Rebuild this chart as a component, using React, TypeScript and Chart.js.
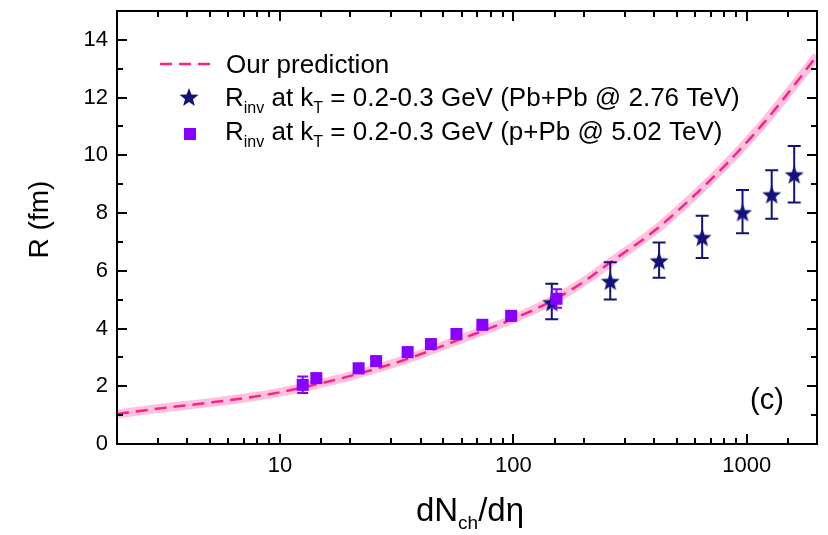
import React, { useEffect, useRef } from "react";
import { Chart, registerables } from "chart.js";

Chart.register(...registerables);

// Prediction curve
const curveX = [2, 2.76, 5.3, 8.93, 12.4, 21.6, 35.2, 57, 98, 148, 205, 258, 407, 603, 800, 1087, 1387, 2000];
const curveY = [1.04, 1.19, 1.46, 1.72, 1.95, 2.43, 2.95, 3.58, 4.31, 4.98, 5.68, 6.27, 7.42, 8.65, 9.62, 10.78, 11.8, 13.45];

// Pb+Pb @ 2.76 TeV (stars)
const pbpbX = [146, 260, 421, 644, 959, 1279, 1597];
const pbpbY = [4.9, 5.64, 6.35, 7.16, 8.02, 8.64, 9.33];
const pbpbLo = [4.32, 5.01, 5.76, 6.44, 7.3, 7.8, 8.37];
const pbpbHi = [5.55, 6.3, 6.98, 7.91, 8.8, 9.48, 10.32];

// p+Pb @ 5.02 TeV (squares)
const ppbX = [12.5, 14.3, 21.7, 25.8, 35.2, 44.3, 57, 73.6, 97.8, 153];
const ppbY = [2.05, 2.28, 2.62, 2.87, 3.18, 3.46, 3.81, 4.13, 4.44, 5.03];
const ppbLo = [1.77, 2.12, 2.46, 2.71, 3.02, 3.3, 3.65, 3.97, 4.28, 4.72];
const ppbHi = [2.34, 2.44, 2.78, 3.03, 3.34, 3.62, 3.97, 4.29, 4.6, 5.36];

const xTickLabels = ["10", "100", "1000"];
const yTickLabels = ["0", "2", "4", "6", "8", "10", "12", "14"];

const FONT = "'Liberation Sans', Arial, sans-serif";
const STAR_COLOR = "#12127a";
const SQUARE_COLOR = "#8800ff";
const LINE_COLOR = "#ff1f8a";
const BAND_COLOR = "rgba(255, 120, 180, 0.45)";

function makeStar(size: number, color: string): HTMLCanvasElement {
  const c = document.createElement("canvas");
  c.width = size;
  c.height = size;
  const ctx = c.getContext("2d")!;
  const cx = size / 2;
  const cy = size / 2 + 0.9;
  const R = size / 2;
  const r = R * 0.42;
  ctx.beginPath();
  for (let i = 0; i < 10; i++) {
    const ang = -Math.PI / 2 + (i * Math.PI) / 5;
    const rad = i % 2 === 0 ? R : r;
    const px = cx + rad * Math.cos(ang);
    const py = cy + rad * Math.sin(ang);
    if (i === 0) ctx.moveTo(px, py);
    else ctx.lineTo(px, py);
  }
  ctx.closePath();
  ctx.fillStyle = color;
  ctx.fill();
  return c;
}

function drawRich(
  ctx: CanvasRenderingContext2D,
  x: number,
  y: number,
  parts: { t: string; sub?: boolean }[],
  size: number,
  subSize: number,
  subOffset: number
) {
  let cx = x;
  ctx.textAlign = "left";
  ctx.textBaseline = "alphabetic";
  for (const p of parts) {
    ctx.font = `${p.sub ? subSize : size}px ${FONT}`;
    ctx.fillText(p.t, cx, p.sub ? y + subOffset : y);
    cx += ctx.measureText(p.t).width;
  }
}

function isDecade(v: number) {
  const l = Math.log10(v);
  return Math.abs(l - Math.round(l)) < 1e-6;
}

export default function App() {
  const ref = useRef<HTMLCanvasElement | null>(null);

  useEffect(() => {
    document.body.style.margin = "0";
    const canvas = ref.current!;
    const star = makeStar(20, STAR_COLOR);
    const legendStar = makeStar(20, STAR_COLOR);

    const curveData = curveX.map((x, i) => ({ x, y: curveY[i] }));
    const pbpbData = pbpbX.map((x, i) => ({ x, y: pbpbY[i] }));
    const ppbData = ppbX.map((x, i) => ({ x, y: ppbY[i] }));

    const errBars = (chart: any, xs: number[], lo: number[], hi: number[], color: string, cap: number) => {
      const ctx = chart.ctx;
      const xs_ = chart.scales.x;
      const ys_ = chart.scales.y;
      ctx.save();
      ctx.strokeStyle = color;
      ctx.lineWidth = 2;
      xs.forEach((xv, i) => {
        const px = xs_.getPixelForValue(xv);
        const pl = ys_.getPixelForValue(lo[i]);
        const ph = ys_.getPixelForValue(hi[i]);
        ctx.beginPath();
        ctx.moveTo(px, pl);
        ctx.lineTo(px, ph);
        ctx.moveTo(px - cap / 2, pl);
        ctx.lineTo(px + cap / 2, pl);
        ctx.moveTo(px - cap / 2, ph);
        ctx.lineTo(px + cap / 2, ph);
        ctx.stroke();
      });
      ctx.restore();
    };

    const decor = {
      id: "decor",
      beforeDatasetDraw(chart: any, args: any) {
        if (args.index === 2) errBars(chart, pbpbX, pbpbLo, pbpbHi, STAR_COLOR, 13);
        if (args.index === 3) errBars(chart, ppbX, ppbLo, ppbHi, SQUARE_COLOR, 11);
      },
      afterDraw(chart: any) {
        const ctx = chart.ctx as CanvasRenderingContext2D;
        const { left, right, top, bottom } = chart.chartArea;
        const xs = chart.scales.x;
        const ys = chart.scales.y;
        ctx.save();
        ctx.strokeStyle = "#000";
        ctx.lineWidth = 2;
        ctx.beginPath();
        xs.ticks.forEach((t: any) => {
          const px = Math.round(xs.getPixelForValue(t.value));
          if (px <= left + 1 || px >= right - 1) return;
          const len = isDecade(t.value) ? 10 : 6;
          ctx.moveTo(px, bottom);
          ctx.lineTo(px, bottom - len);
          ctx.moveTo(px, top);
          ctx.lineTo(px, top + len);
        });
        ys.ticks.forEach((t: any) => {
          const py = Math.round(ys.getPixelForValue(t.value));
          if (py <= top + 1 || py >= bottom - 1) return;
          const len = t.value % 2 === 0 ? 10 : 6;
          ctx.moveTo(left, py);
          ctx.lineTo(left + len, py);
          ctx.moveTo(right, py);
          ctx.lineTo(right - len, py);
        });
        ctx.stroke();
        ctx.strokeRect(left, top, right - left, bottom - top);

        ctx.fillStyle = "#000";
        ctx.save();
        ctx.translate(40, (top + bottom) / 2 - 8);
        ctx.rotate(-Math.PI / 2);
        ctx.font = `28px ${FONT}`;
        ctx.textAlign = "center";
        ctx.textBaseline = "middle";
        ctx.fillText("R (fm)", 0, 0);
        ctx.restore();

        const parts = [
          { t: "dN" },
          { t: "ch", sub: true },
          { t: "/d\u03b7" },
        ];
        let w = 0;
        for (const p of parts) {
          ctx.font = `${p.sub ? 19 : 33}px ${FONT}`;
          w += ctx.measureText(p.t).width;
        }
        drawRich(ctx, 470 - w / 2, 521, parts, 33, 19, 8);

        ctx.font = `29px ${FONT}`;
        ctx.textAlign = "center";
        ctx.textBaseline = "middle";
        ctx.fillText("(c)", 767, 401);

        ctx.save();
        ctx.strokeStyle = LINE_COLOR;
        ctx.lineWidth = 2.5;
        ctx.setLineDash([12, 7]);
        ctx.beginPath();
        ctx.moveTo(160, 64);
        ctx.lineTo(214, 64);
        ctx.stroke();
        ctx.restore();
        ctx.fillStyle = "#000";
        drawRich(ctx, 226, 73, [{ t: "Our prediction" }], 26, 16, 7);
        ctx.drawImage(legendStar, 189 - 10, 97 - 10);
        drawRich(
          ctx,
          225,
          106,
          [
            { t: "R" },
            { t: "inv", sub: true },
            { t: " at k" },
            { t: "T", sub: true },
            { t: " = 0.2-0.3 GeV (Pb+Pb @ 2.76 TeV)" },
          ],
          26,
          16,
          7
        );
        ctx.fillStyle = SQUARE_COLOR;
        ctx.fillRect(190 - 6, 134 - 6, 12, 12);
        ctx.fillStyle = "#000";
        drawRich(
          ctx,
          225,
          140,
          [
            { t: "R" },
            { t: "inv", sub: true },
            { t: " at k" },
            { t: "T", sub: true },
            { t: " = 0.2-0.3 GeV (p+Pb @ 5.02 TeV)" },
          ],
          26,
          16,
          7
        );
        ctx.restore();
      },
    };

    const chart = new Chart(canvas, {
      type: "scatter",
      data: {
        datasets: [
          {
            type: "line",
            data: curveData,
            borderColor: BAND_COLOR,
            borderWidth: 9,
            pointRadius: 0,
            fill: false,
            cubicInterpolationMode: "monotone",
            order: 3,
          } as any,
          {
            type: "line",
            data: curveData,
            borderColor: LINE_COLOR,
            borderWidth: 2.5,
            borderDash: [12, 7],
            pointRadius: 0,
            fill: false,
            cubicInterpolationMode: "monotone",
            order: 2,
          } as any,
          {
            data: pbpbData,
            pointStyle: star as any,
            pointRadius: 10,
            backgroundColor: STAR_COLOR,
            borderColor: STAR_COLOR,
            order: 1,
          },
          {
            data: ppbData,
            pointStyle: "rect",
            pointRadius: 8.5,
            borderWidth: 0,
            backgroundColor: SQUARE_COLOR,
            borderColor: SQUARE_COLOR,
            order: 0,
          },
        ],
      },
      options: {
        responsive: false,
        animation: false,
        devicePixelRatio: 1,
        layout: { padding: { top: 9, right: 8, left: 0, bottom: 0 } },
        plugins: { legend: { display: false }, tooltip: { enabled: false } },
        scales: {
          x: {
            type: "logarithmic",
            min: 2,
            max: 2000,
            grid: { display: false, drawTicks: false },
            border: { display: false },
            ticks: {
              autoSkip: false,
              maxRotation: 0,
              padding: 9,
              color: "#000",
              font: { family: FONT, size: 22 },
              callback: (v: any) => {
                const n = Number(v);
                const s = String(Math.round(n));
                return isDecade(n) && xTickLabels.includes(s) ? s : "";
              },
            },
            afterFit: (s: any) => {
              s.height = 91;
              s.paddingLeft = 0;
              s.paddingRight = 0;
            },
          },
          y: {
            type: "linear",
            min: 0,
            max: 15,
            grid: { display: false, drawTicks: false },
            border: { display: false },
            ticks: {
              stepSize: 1,
              autoSkip: false,
              padding: 9,
              color: "#000",
              font: { family: FONT, size: 22 },
              callback: (v: any) => {
                const s = String(v);
                return yTickLabels.includes(s) ? s : "";
              },
            },
            afterFit: (s: any) => {
              s.width = 117;
              s.paddingTop = 0;
              s.paddingBottom = 0;
            },
          },
        },
      },
      plugins: [decor],
    });
    return () => chart.destroy();
  }, []);

  return (
    <div style={{ width: 828, height: 535, position: "relative", background: "#fff" }}>
      <canvas ref={ref} width={828} height={535} style={{ display: "block" }} />
    </div>
  );
}
